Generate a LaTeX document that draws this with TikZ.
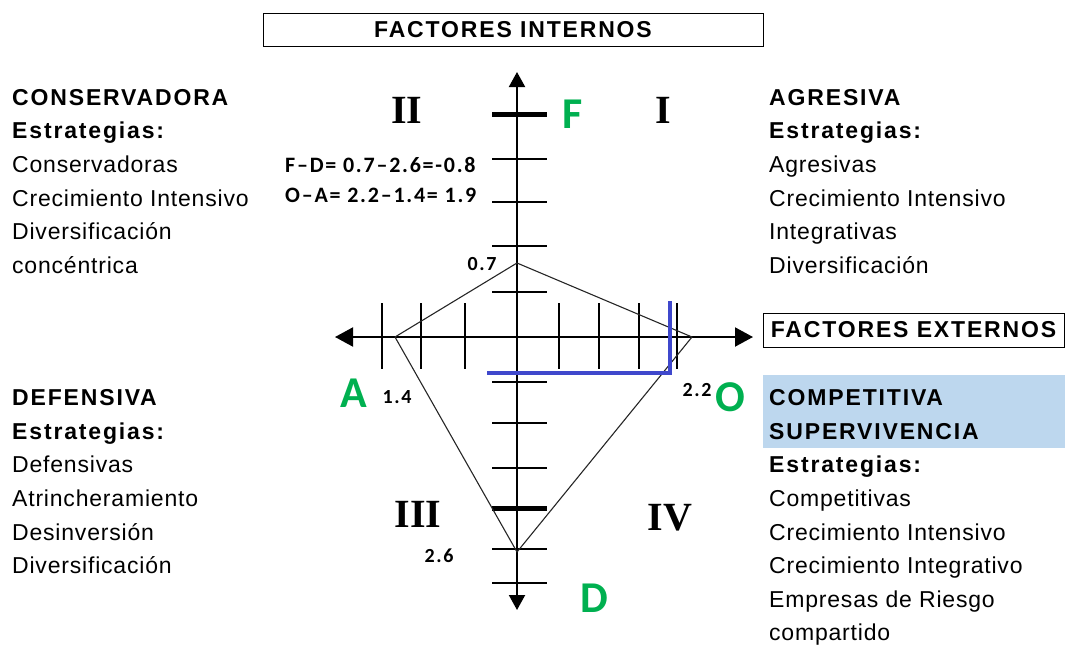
\documentclass[tikz,border=0pt]{standalone}
\usepackage{fontspec}
\setmainfont{Liberation Sans}[LetterSpace=3.5,BoldFeatures={LetterSpace=8}]
\newfontfamily\calfont{Carlito}
\newfontfamily\calspaced{Carlito}[LetterSpace=8]
\newfontfamily\romfont{Liberation Serif}
\usetikzlibrary{arrows.meta}
\definecolor{xgreen}{RGB}{0,176,80}
\definecolor{xblue}{RGB}{63,72,204}
\definecolor{xlight}{RGB}{189,215,238}
\begin{document}
\begin{tikzpicture}[x=1pt,y=-1pt,
  vaxis/.style={line width=2pt,{Triangle[length=15pt,width=16pt]}-{Triangle[length=15pt,width=16pt]}},
  haxis/.style={line width=2pt,{Triangle[length=18pt,width=19pt]}-{Triangle[length=18pt,width=19pt]}},
  tk/.style={line width=2.5pt},
  bigtk/.style={line width=5pt},
  poly/.style={line width=1.1pt,draw=black!85,line join=round},
  blueline/.style={line width=3.5pt,draw=xblue},
  titlebox/.style={draw,line width=1pt,inner sep=0pt,font=\bfseries\fontsize{23}{23}\selectfont},
  block/.style={anchor=north west,inner sep=0pt,align=left,font=\fontsize{23}{33.6}\selectfont},
  num/.style={inner sep=0pt,font=\calspaced\bfseries\fontsize{20}{20}\selectfont},
  eq/.style={anchor=west,inner sep=0pt,font=\calspaced\bfseries\fontsize{22}{30}\selectfont},
  letter/.style={inner sep=0pt,text=xgreen,font=\calfont\bfseries\fontsize{44}{44}\selectfont},
  quad/.style={inner sep=0pt,font=\romfont\bfseries\fontsize{40}{40}\selectfont}
]
\useasboundingbox (0,0) rectangle (1065,646);

% highlight
\fill[xlight] (763,375) rectangle (1065,448);

% title boxes
\node[titlebox,minimum width=500pt,minimum height=33pt] (fint) at (513,29.5) {FACTORES INTERNOS};
\node[titlebox,minimum width=301pt,minimum height=34pt] (fext) at (913.5,330) {FACTORES EXTERNOS};

% text blocks
\node[block] (cons) at (12,89) {\textbf{CONSERVADORA}\\\textbf{Estrategias:}\\Conservadoras\\Crecimiento Intensivo\\Diversificación\\concéntrica};
\node[block] (agr) at (769,89) {\textbf{AGRESIVA}\\\textbf{Estrategias:}\\Agresivas\\Crecimiento Intensivo\\Integrativas\\Diversificación};
\node[block] (def) at (12,389.5) {\textbf{DEFENSIVA}\\\textbf{Estrategias:}\\Defensivas\\Atrincheramiento\\Desinversión\\Diversificación};
\node[block] (comp) at (769,389.5) {\textbf{COMPETITIVA}\\\textbf{SUPERVIVENCIA}\\\textbf{Estrategias:}\\Competitivas\\Crecimiento Intensivo\\Crecimiento Integrativo\\Empresas de Riesgo\\compartido};

% axes
\coordinate (yt) at (517,72);
\coordinate (yb) at (517,610);
\coordinate (xl) at (335,337);
\coordinate (xr) at (753,337);
\draw[vaxis] (yb) -- (yt);
\draw[haxis] (xl) -- (xr);

% ticks on vertical axis
\foreach \y in {159,202,246,292,382,423,468,549,583}
  \draw[tk] (492,\y) -- (547,\y);
\foreach \y in {114,508}
  \draw[bigtk] (492,\y) -- (547,\y);
% ticks on horizontal axis
\foreach \x in {382,421,465,559,599,639,677}
  \draw[tk] (\x,303) -- (\x,369);

% polygon
\coordinate (pF) at (517,263);
\coordinate (pO) at (692,337);
\coordinate (pD) at (517,552);
\coordinate (pA) at (395,337);
\draw[poly] (pF) -- (pO) -- (pD) -- (pA) -- cycle;

% blue result lines
\coordinate (bTop) at (670,303);
\coordinate (bCorner) at (670,373);
\coordinate (bLeft) at (489,373);
\draw[blueline,line cap=rect] (bTop) -- (bCorner) -- (bLeft);

% numbers
\node[num] (n07) at (482,264) {0.7};
\node[num] (n14) at (397,397) {1.4};
\node[num] (n22) at (697,390) {2.2};
\node[num] (n26) at (439,556) {2.6};

% equations
\node[eq] (eq1) at (285,165) {F–D= 0.7–2.6=-0.8};
\node[eq] (eq2) at (285,195) {O–A= 2.2–1.4= 1.9};

% letters
\node[letter] (lF) at (573,114) {F};
\node[letter] (lA) at (354,393) {A};
\node[letter] (lO) at (730,397) {O};
\node[letter] (lD) at (594,598) {D};

% quadrants
\node[quad] (q2) at (407,110) {II};
\node[quad] (q1) at (663,110) {I};
\node[quad] (q3) at (418,514) {III};
\node[quad] (q4) at (670,518) {IV};
\end{tikzpicture}
\end{document}
